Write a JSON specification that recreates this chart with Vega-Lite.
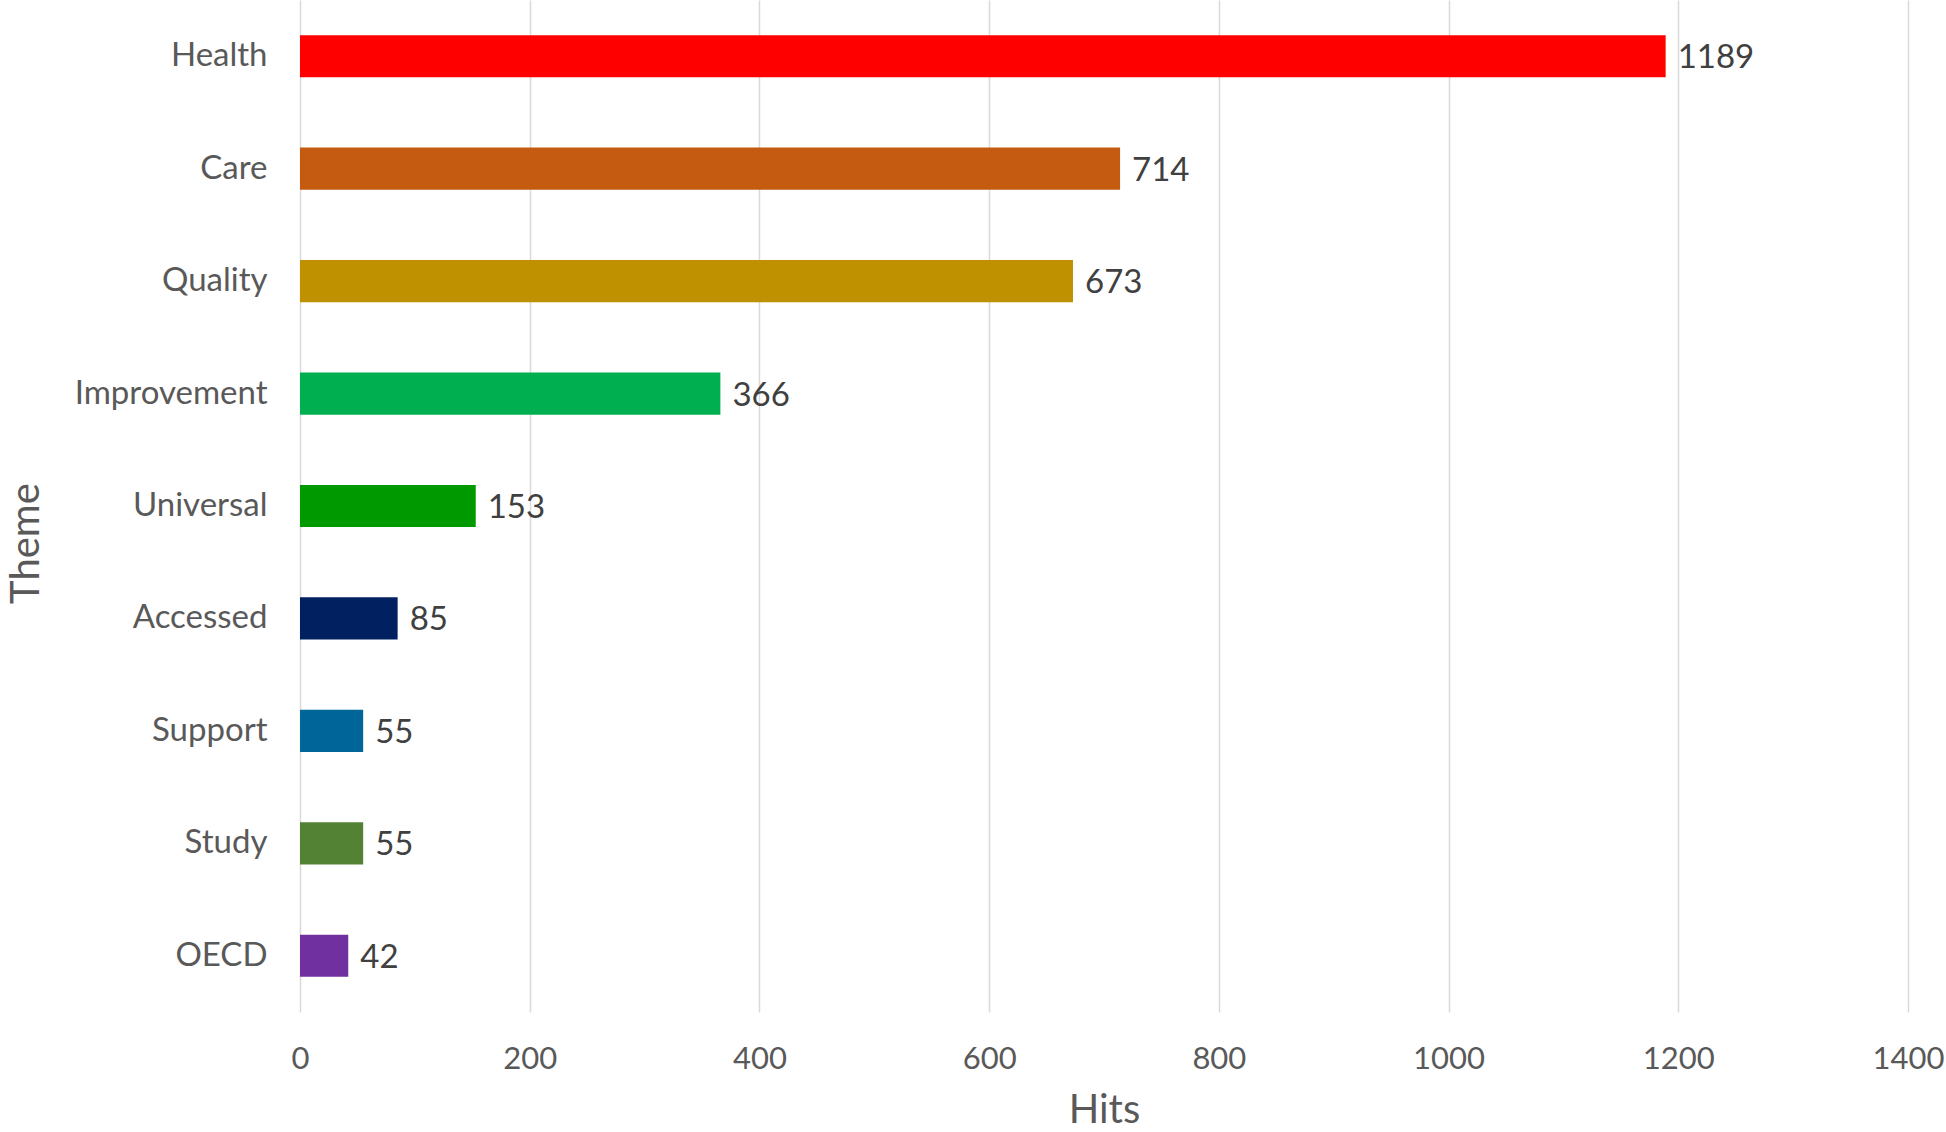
{
  "$schema": "https://vega.github.io/schema/vega-lite/v6.json",
  "autosize": {"type": "none"},
  "width": 1608,
  "height": 1012,
  "padding": {"left": 300, "top": 0, "right": 38, "bottom": 120},
  "background": "white",
  "config": {
    "font": "Lato",
    "view": {"stroke": null}
  },
  "data": {
    "values": [
      {"theme": "Health", "hits": 1189},
      {"theme": "Care", "hits": 714},
      {"theme": "Quality", "hits": 673},
      {"theme": "Improvement", "hits": 366},
      {"theme": "Universal", "hits": 153},
      {"theme": "Accessed", "hits": 85},
      {"theme": "Support", "hits": 55},
      {"theme": "Study", "hits": 55},
      {"theme": "OECD", "hits": 42}
    ]
  },
  "encoding": {
    "y": {
      "field": "theme",
      "type": "nominal",
      "sort": null,
      "scale": {"paddingInner": 0.625, "paddingOuter": 0.3125},
      "axis": {
        "title": "Theme",
        "titleFontSize": 40,
        "titleFontWeight": "normal",
        "titleColor": "#595959",
        "titleAngle": -90,
        "titleX": -262,
        "titleY": 543,
        "titleAlign": "center",
        "titleBaseline": "alphabetic",
        "labelFontSize": 33,
        "labelLimit": 400,
        "labelColor": "#595959",
        "labelPadding": 33,
        "ticks": false,
        "domain": false
      }
    },
    "x": {
      "field": "hits",
      "type": "quantitative",
      "scale": {"domain": [0, 1400], "nice": false},
      "axis": {
        "title": "Hits",
        "format": "d",
        "values": [0, 200, 400, 600, 800, 1000, 1200, 1400],
        "titleFontSize": 40,
        "titleFontWeight": "normal",
        "titleColor": "#595959",
        "titleBaseline": "alphabetic",
        "titleY": 110,
        "labelFontSize": 31,
        "labelColor": "#595959",
        "labelBaseline": "alphabetic",
        "labelPadding": 56,
        "labelFlush": false,
        "ticks": false,
        "domain": false,
        "grid": true,
        "gridColor": "#d9d9d9",
        "gridWidth": 1.5
      }
    }
  },
  "layer": [
    {
      "mark": {"type": "bar"},
      "encoding": {
        "color": {
          "field": "theme",
          "type": "nominal",
          "legend": null,
          "scale": {
            "domain": ["Health", "Care", "Quality", "Improvement", "Universal", "Accessed", "Support", "Study", "OECD"],
            "range": ["#FF0000", "#C55A11", "#BF9000", "#00B050", "#009900", "#002060", "#006699", "#548235", "#7030A0"]
          }
        }
      }
    },
    {
      "mark": {"type": "text", "align": "left", "baseline": "middle", "dx": 12, "dy": 2, "fontSize": 33, "color": "#404040"},
      "encoding": {
        "text": {"field": "hits", "type": "quantitative"}
      }
    }
  ]
}
